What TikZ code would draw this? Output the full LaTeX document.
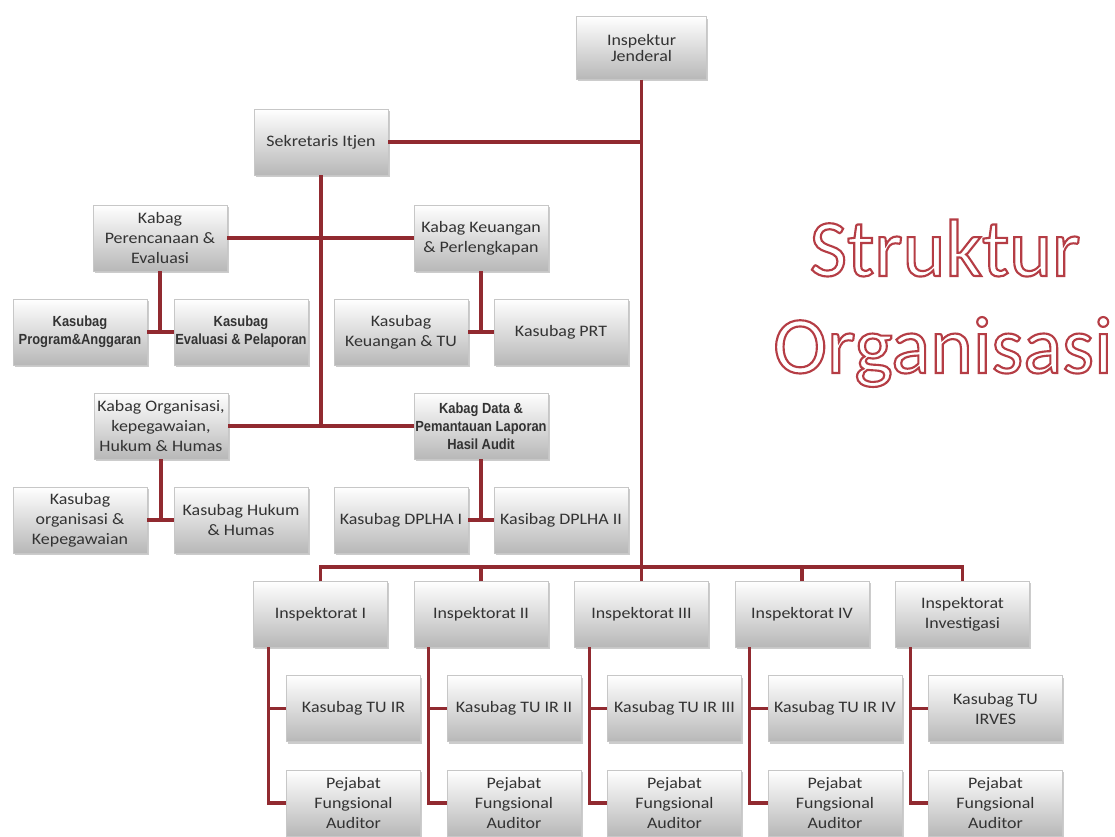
\documentclass[tikz,border=0pt]{standalone}
\usepackage{fontspec}
\setmainfont{Carlito}[FakeStretch=1.12]
\newfontfamily\arialfont{Liberation Sans}[FakeStretch=0.88]
\newfontfamily\titlefont{Carlito}
\usetikzlibrary{positioning,shadows}

\definecolor{linkred}{RGB}{145,42,48}
\newcommand{\garistepi}[1]{\special{pdf:literal direct 1 Tr 1.6 w 0.71 0.24 0.27 RG}#1\special{pdf:literal direct 0 Tr}}

\begin{document}
\begin{tikzpicture}[x=0.75pt, y=-0.75pt,
    box/.style={draw=black!22, top color=white, bottom color=black!28,
        drop shadow={shadow xshift=1.4pt, shadow yshift=-1.6pt, opacity=.4},
        minimum width=100.5pt, minimum height=49.5pt, inner sep=1pt,
        align=center, text=black!80, font=\fontsize{12}{15}\selectfont},
    narrow/.style={font=\arialfont\bfseries\fontsize{11}{13.5}\selectfont},
    link/.style={draw=linkred, line width=2.6pt}]

    \useasboundingbox (0,0) rectangle (1115,837);

    % puncak
    \node (ij)   [box, minimum width=97.5pt, minimum height=47pt,
                  font=\fontsize{12}{11.5}\selectfont] at (641.5,48) {Inspektur\\Jenderal};
    \node (sek)  [box] at (321,142) {Sekretaris Itjen};

    % sekretariat
    \node (kbPE) [box] at (160,238) {Kabag\\Perencanaan \&\\Evaluasi};
    \node (kbKP) [box] at (481,238) {Kabag Keuangan\\\& Perlengkapan};
    \node (ksPA) [box, narrow] at (80,332)  {Kasubag\\Program\&Anggaran};
    \node (ksEP) [box, narrow] at (241,332) {Kasubag\\Evaluasi \& Pelaporan};
    \node (ksKT) [box] at (401,332) {Kasubag\\Keuangan \& TU};
    \node (ksPRT)[box] at (561,332) {Kasubag PRT};

    \node (kbOK) [box] at (161,426) {Kabag Organisasi,\\kepegawaian,\\Hukum \& Humas};
    \node (kbDP) [box, narrow] at (481,426) {Kabag Data \&\\Pemantauan Laporan\\Hasil Audit};
    \node (ksOK) [box] at (80,520)  {Kasubag\\organisasi \&\\Kepegawaian};
    \node (ksHH) [box] at (241,520) {Kasubag Hukum\\\& Humas};
    \node (ksD1) [box] at (401,520) {Kasubag DPLHA I};
    \node (ksD2) [box] at (561,520) {Kasibag DPLHA II};

    % inspektorat
    \node (ins1) [box] at (320.5,614) {Inspektorat I};
    \node (ins2) [box] at (481,614)   {Inspektorat II};
    \node (ins3) [box] at (641.5,614) {Inspektorat III};
    \node (ins4) [box] at (802,614)   {Inspektorat IV};
    \node (ins5) [box] at (962.5,614) {Inspektorat\\Investigasi};

    \node (tu1) [box, below=21pt of ins1, xshift=24.75pt] {Kasubag TU IR};
    \node (tu2) [box, below=21pt of ins2, xshift=24.75pt] {Kasubag TU IR II};
    \node (tu3) [box, below=21pt of ins3, xshift=24.75pt] {Kasubag TU IR III};
    \node (tu4) [box, below=21pt of ins4, xshift=24.75pt] {Kasubag TU IR IV};
    \node (tu5) [box, below=21pt of ins5, xshift=24.75pt] {Kasubag TU\\IRVES};

    \node (pj1) [box, below=21pt of tu1] {Pejabat\\Fungsional\\Auditor};
    \node (pj2) [box, below=21pt of tu2] {Pejabat\\Fungsional\\Auditor};
    \node (pj3) [box, below=21pt of tu3] {Pejabat\\Fungsional\\Auditor};
    \node (pj4) [box, below=21pt of tu4] {Pejabat\\Fungsional\\Auditor};
    \node (pj5) [box, below=21pt of tu5] {Pejabat\\Fungsional\\Auditor};

    % judul
    \node (judul1) [anchor=base, inner sep=0pt, font=\titlefont\fontsize{61}{61}\selectfont]
        at (945,276) {\garistepi{Struktur}};
    \node (judul2) [anchor=base, inner sep=0pt, font=\titlefont\fontsize{61}{61}\selectfont]
        at (943,373) {\garistepi{Organisasi}};

    % garis
    \coordinate (bar) at (641.5,567);
    \draw[link] (ij.south) -- (ins3.north);
    \draw[link] (sek.east) -- (sek.east -| ij.south);
    \draw[link] (ins1.north) |- (bar) -| (ins5.north);
    \draw[link] (ins2.north) -- (ins2.north |- bar);
    \draw[link] (ins4.north) -- (ins4.north |- bar);

    \draw[link] (sek.south) -- (sek.south |- kbOK.east);
    \draw[link] (kbPE.east) -- (kbKP.west);
    \draw[link] (kbOK.east) -- (kbDP.west);

    \draw[link] (kbPE.south) -- (kbPE.south |- ksPA.east);
    \draw[link] (ksPA.east) -- (ksEP.west);
    \draw[link] (kbKP.south) -- (kbKP.south |- ksKT.east);
    \draw[link] (ksKT.east) -- (ksPRT.west);
    \draw[link] (kbOK.south) -- (kbOK.south |- ksOK.east);
    \draw[link] (ksOK.east) -- (ksHH.west);
    \draw[link] (kbDP.south) -- (kbDP.south |- ksD1.east);
    \draw[link] (ksD1.east) -- (ksD2.west);

    \coordinate (v1) at ([xshift=11.25pt]ins1.south west);
    \coordinate (v2) at ([xshift=11.25pt]ins2.south west);
    \coordinate (v3) at ([xshift=11.25pt]ins3.south west);
    \coordinate (v4) at ([xshift=11.25pt]ins4.south west);
    \coordinate (v5) at ([xshift=11.25pt]ins5.south west);

    \draw[link] (v1) |- (pj1.west);
    \draw[link] (v1 |- tu1.west) -- (tu1.west);
    \draw[link] (v2) |- (pj2.west);
    \draw[link] (v2 |- tu2.west) -- (tu2.west);
    \draw[link] (v3) |- (pj3.west);
    \draw[link] (v3 |- tu3.west) -- (tu3.west);
    \draw[link] (v4) |- (pj4.west);
    \draw[link] (v4 |- tu4.west) -- (tu4.west);
    \draw[link] (v5) |- (pj5.west);
    \draw[link] (v5 |- tu5.west) -- (tu5.west);

\end{tikzpicture}
\end{document}
